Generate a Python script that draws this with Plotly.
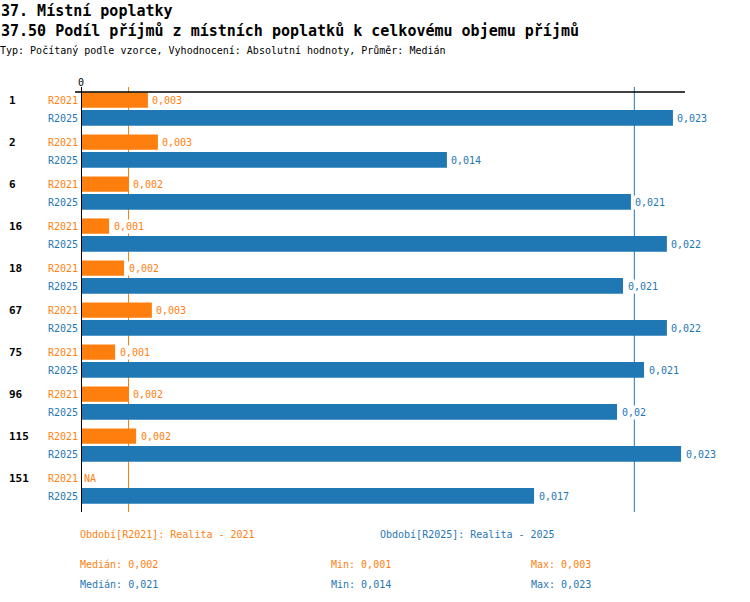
import numpy as np
import plotly.graph_objects as go

# ---------------- data ----------------
CATEGORIES = ["1", "2", "6", "16", "18", "67", "75", "96", "115", "151"]
SERIES = ["R2021", "R2025"]
PERIOD_NAMES = ["Realita - 2021", "Realita - 2025"]
VALUES_2021 = [0.00255, 0.00293, 0.00181, 0.00107, 0.00164, 0.00270, 0.00130, 0.00181, 0.00210, None]
VALUES_2025 = [0.02255, 0.01394, 0.02095, 0.02232, 0.02065, 0.02232, 0.02145, 0.02042, 0.02286, 0.01726]
MEDIAN_LINES = [0.00181, 0.02108]
X_MAX = 0.02301

TITLE_1 = "37. Místní poplatky"
TITLE_2 = "37.50 Podíl příjmů z místních poplatků k celkovému objemu příjmů"
TITLE_3 = "Typ: Počítaný podle vzorce, Vyhodnocení: Absolutní hodnoty, Průměr: Medián"

COLORS = ["#ff7f0e", "#1f77b4"]
FONT = "DejaVu Sans Mono"

# ---------------- layout geometry ----------------
W, H = 750, 602
ML, MR, MT, MB = 81, 65, 92, 90
PW = W - ML - MR
PH = H - MT - MB


def px_x(x):
    return (x - ML) / PW


def px_y(y):
    return (H - MB - y) / PH


def fmt(v):
    s = f"{v:.3f}".rstrip("0").rstrip(".")
    return s.replace(".", ",")


series_values = [VALUES_2021, VALUES_2025]
offsets = [-0.49, -0.07]
widths = [0.365, 0.372]
label_pos = [-0.30, 0.125]

fig = go.Figure()
for si in range(2):
    fig.add_trace(go.Bar(
        y=CATEGORIES, x=series_values[si], orientation="h",
        marker=dict(color=COLORS[si], line=dict(width=0)),
        offset=offsets[si], width=widths[si], name=SERIES[si],
        hoverinfo="skip",
    ))

shapes = []
# median lines (below bars)
for si in range(2):
    shapes.append(dict(type="line", xref="x", yref="paper",
                       x0=MEDIAN_LINES[si], x1=MEDIAN_LINES[si],
                       y0=0, y1=px_y(87), layer="below",
                       line=dict(color=COLORS[si], width=1)))
# zero axis
shapes.append(dict(type="line", xref="x", yref="paper", x0=0, x1=0,
                   y0=0, y1=px_y(87), layer="above",
                   line=dict(color="black", width=2)))
# top line
shapes.append(dict(type="line", xref="paper", yref="paper",
                   x0=px_x(75), x1=1, y0=1, y1=1, layer="above",
                   line=dict(color="black", width=1.5)))

ann = []
# titles
ann.append(dict(text="<b>" + TITLE_1 + "</b>", xref="paper", yref="paper",
                x=px_x(-1), y=px_y(11), xanchor="left", yanchor="middle",
                showarrow=False, font=dict(family=FONT, size=15, color="black")))
ann.append(dict(text="<b>" + TITLE_2 + "</b>", xref="paper", yref="paper",
                x=px_x(-1), y=px_y(31), xanchor="left", yanchor="middle",
                showarrow=False, font=dict(family=FONT, size=15, color="black")))
ann.append(dict(text=TITLE_3, xref="paper", yref="paper",
                x=px_x(-2), y=px_y(51), xanchor="left", yanchor="middle",
                showarrow=False, font=dict(family=FONT, size=10, color="black")))
# zero tick label
ann.append(dict(text="0", xref="x", yref="paper", x=0, y=px_y(82),
                xanchor="center", yanchor="middle", showarrow=False,
                font=dict(family=FONT, size=10, color="black")))

for ci, cat in enumerate(CATEGORIES):
    ann.append(dict(text="<b>" + cat + "</b>", xref="paper", yref="y",
                    x=px_x(7), y=ci + label_pos[0], xanchor="left", yanchor="middle",
                    showarrow=False, font=dict(family=FONT, size=11, color="black")))
    for si in range(2):
        ann.append(dict(text=SERIES[si], xref="paper", yref="y",
                        x=px_x(79.5), y=ci + label_pos[si], xanchor="right",
                        yanchor="middle", showarrow=False,
                        font=dict(family=FONT, size=10, color=COLORS[si])))
        v = series_values[si][ci]
        if v is None:
            ann.append(dict(text="NA", xref="x", yref="y", x=0, xshift=1,
                            y=ci + label_pos[si], xanchor="left", yanchor="middle",
                            showarrow=False,
                            font=dict(family=FONT, size=10, color=COLORS[si])))
        else:
            ann.append(dict(text=fmt(v), xref="x", yref="y", x=v, xshift=2.5,
                            y=ci + label_pos[si], xanchor="left", yanchor="middle",
                            showarrow=False, bgcolor="white",
                            font=dict(family=FONT, size=10, color=COLORS[si])))

# legend / statistics block
legend_x = [80, 380]
for si in range(2):
    ann.append(dict(text=f"Období[{SERIES[si]}]: {PERIOD_NAMES[si]}",
                    xref="paper", yref="paper", x=px_x(legend_x[si] - 2), y=px_y(534),
                    xanchor="left", yanchor="middle", showarrow=False,
                    font=dict(family=FONT, size=10, color=COLORS[si])))
    vals = np.array([v for v in series_values[si] if v is not None], dtype=float)
    stats = [("Medián", np.median(vals), 80), ("Min", vals.min(), 331), ("Max", vals.max(), 531)]
    for name, val, sx in stats:
        ann.append(dict(text=f"{name}: {fmt(val)}", xref="paper", yref="paper",
                        x=px_x(sx - 2), y=px_y(564 + 20 * si),
                        xanchor="left", yanchor="middle", showarrow=False,
                        font=dict(family=FONT, size=10, color=COLORS[si])))

fig.update_layout(
    width=W, height=H,
    margin=dict(l=ML, r=MR, t=MT, b=MB, pad=0),
    paper_bgcolor="white", plot_bgcolor="white",
    showlegend=False, barmode="overlay",
    xaxis=dict(range=[0, X_MAX], showgrid=False, zeroline=False,
               showticklabels=False, ticks="", showline=False, fixedrange=True),
    yaxis=dict(type="category", categoryorder="array", categoryarray=CATEGORIES,
               range=[len(CATEGORIES) - 0.5, -0.5], showgrid=False, zeroline=False,
               showticklabels=False, ticks="", showline=False, fixedrange=True),
    shapes=shapes, annotations=ann,
    font=dict(family=FONT, size=10),
)

fig.write_html("out.html", config={"displayModeBar": False},
               post_script="document.body.style.margin='0px';document.body.style.padding='0px';")
